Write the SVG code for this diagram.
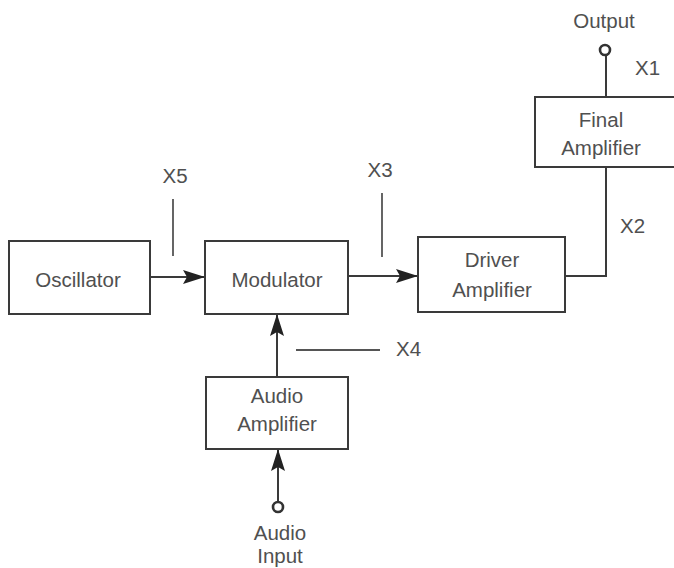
<svg xmlns="http://www.w3.org/2000/svg" width="674" height="568" viewBox="0 0 674 568">
<style>
.box{fill:#fff;stroke:#3a3a3a;stroke-width:2}
.ln{fill:none;stroke:#3a3a3a;stroke-width:2}
.tick{fill:none;stroke:#555;stroke-width:1.8}
text{font-family:"Liberation Sans",Arial,sans-serif;font-size:20.5px;fill:#505050;text-anchor:middle}
.lbl{text-anchor:start}
.term{fill:#fff;stroke:#333;stroke-width:2.6}
</style>
<defs>
<marker id="ah" markerUnits="userSpaceOnUse" viewBox="0 0 22 14" refX="22" refY="7" markerWidth="22" markerHeight="14" orient="auto">
<path d="M0,0 L22,7 L0,14 L4,7 Z" fill="#222"/>
</marker>
</defs>
<rect width="674" height="568" fill="#fff"/>
<g id="connectors">
<line class="ln" x1="150" y1="277" x2="205" y2="277" marker-end="url(#ah)"/>
<line class="ln" x1="348" y1="276" x2="418" y2="276" marker-end="url(#ah)"/>
<polyline class="ln" points="565,276 606,276 606,167"/>
<line class="ln" x1="606" y1="97" x2="606" y2="56"/>
<line class="ln" x1="277" y1="377" x2="277" y2="314" marker-end="url(#ah)"/>
<line class="ln" x1="278" y1="501" x2="278" y2="449" marker-end="url(#ah)"/>
</g>
<g id="oscillator">
<rect class="box" x="9" y="241" width="141" height="73"/>
<text x="78" y="287">Oscillator</text>
</g>
<g id="modulator">
<rect class="box" x="205" y="241" width="143" height="73"/>
<text x="277" y="287">Modulator</text>
</g>
<g id="driver">
<rect class="box" x="418" y="237" width="147" height="75"/>
<text x="492" y="267">Driver</text>
<text x="492" y="297">Amplifier</text>
</g>
<g id="final">
<rect class="box" x="535" y="97" width="145" height="70"/>
<text x="601" y="127">Final</text>
<text x="601" y="155">Amplifier</text>
</g>
<g id="audioamp">
<rect class="box" x="206" y="377" width="142" height="72"/>
<text x="277" y="403">Audio</text>
<text x="277" y="431">Amplifier</text>
</g>
<g id="output">
<circle class="term" cx="605" cy="50" r="5"/>
<text x="604" y="28">Output</text>
</g>
<g id="audioinput">
<circle class="term" cx="278" cy="507" r="5"/>
<text x="280" y="540">Audio</text>
<text x="280" y="563">Input</text>
</g>
<g id="testpoints">
<line class="tick" x1="173" y1="199" x2="173" y2="256"/>
<text x="175" y="183">X5</text>
<line class="tick" x1="382" y1="193" x2="382" y2="257"/>
<text x="380" y="177">X3</text>
<line class="tick" x1="296" y1="350" x2="380" y2="350"/>
<text class="lbl" x="396" y="356">X4</text>
<text class="lbl" x="635" y="75">X1</text>
<text class="lbl" x="620" y="233">X2</text>
</g>
</svg>
